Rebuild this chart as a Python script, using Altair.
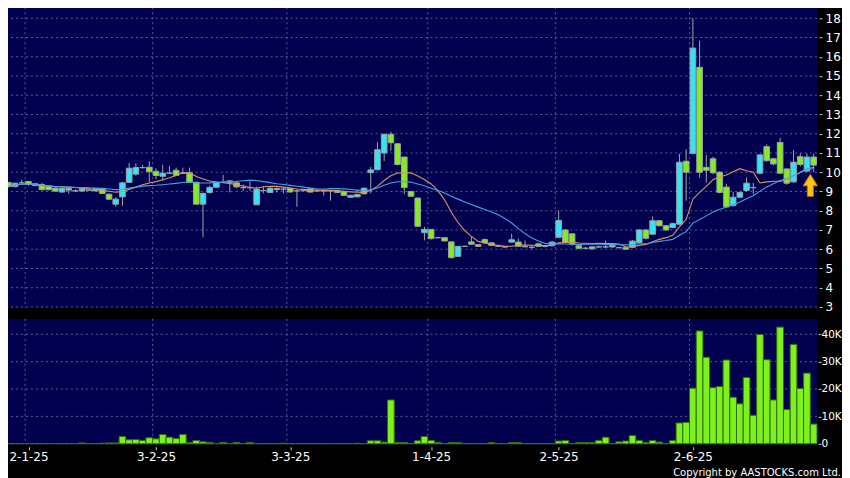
import altair as alt
import pandas as pd

# ---------------- data ----------------
opens = [9.47, 9.25, 9.45, 9.52, 9.40, 9.36, 9.28, 9.17, 8.97, 9.17,
         9.03, 9.02, 9.07, 9.14, 9.14, 8.86, 8.34, 8.72, 9.47, 9.90,
         10.24, 10.26, 10.05, 9.79, 9.95, 10.10, 9.95, 9.97, 9.48, 8.34,
         8.95, 9.22, 9.47, 9.45, 9.45, 9.20, 9.20, 8.31, 9.05, 8.95,
         9.10, 9.12, 9.16, 9.03, 9.05, 9.14, 9.03, 9.03, 9.03, 8.95,
         9.00, 8.70, 8.72, 9.17, 9.98, 10.13, 11.00, 11.97, 11.48, 10.79,
         9.00, 8.66, 6.86, 7.03, 6.60, 6.60, 6.38, 5.63, 6.15, 6.38,
         6.24, 6.50, 6.33, 6.15, 6.12, 6.37, 6.37, 6.13, 6.10, 6.28,
         6.15, 6.18, 6.62, 7.00, 6.80, 6.18, 6.05, 6.12, 6.12, 6.12,
         6.20, 6.08, 6.08, 6.10, 6.34, 7.00, 6.78, 7.48, 7.22, 7.13,
         7.30, 10.57, 10.98, 15.45, 10.25, 10.70, 10.00, 9.23, 8.27, 8.70,
         9.05, 9.20, 9.95, 11.33, 10.70, 11.55, 10.17, 9.50, 10.81, 10.06,
         10.79]
closes = [9.25, 9.43, 9.45, 9.38, 9.31, 9.09, 9.09, 9.02, 9.17, 9.07,
          9.03, 9.14, 9.07, 9.03, 8.90, 8.60, 8.60, 9.45, 10.21, 10.24,
          10.24, 10.03, 9.83, 9.95, 9.95, 9.84, 9.95, 9.47, 8.34, 8.90,
          9.21, 9.48, 9.47, 9.55, 9.24, 9.20, 9.20, 9.12, 9.05, 9.17,
          9.15, 9.12, 8.98, 9.03, 9.05, 8.97, 9.03, 9.03, 9.03, 9.05,
          8.80, 8.80, 8.85, 8.88, 10.12, 11.17, 11.97, 11.53, 10.40, 9.20,
          8.75, 7.19, 7.03, 6.55, 6.60, 6.43, 5.56, 6.15, 6.15, 6.26,
          6.15, 6.33, 6.20, 6.15, 6.12, 6.49, 6.15, 6.13, 6.10, 6.15,
          6.15, 6.37, 7.50, 6.35, 6.27, 6.05, 6.05, 6.02, 6.12, 6.12,
          6.12, 6.08, 6.00, 6.42, 7.00, 6.57, 7.48, 7.22, 7.00, 7.33,
          10.52, 10.00, 16.45, 10.00, 10.10, 9.97, 8.95, 8.20, 8.70, 8.95,
          9.43, 9.20, 10.90, 10.60, 10.43, 9.95, 9.43, 10.52, 10.40, 10.79,
          10.37]
highs = [9.50, 9.46, 9.62, 9.55, 9.42, 9.45, 9.30, 9.20, 9.22, 9.24,
         9.12, 9.17, 9.12, 9.18, 9.16, 8.88, 8.70, 9.50, 10.48, 10.46,
         10.38, 10.58, 10.20, 10.38, 10.33, 10.24, 10.24, 10.24, 9.50, 8.95,
         9.30, 9.50, 9.86, 9.60, 9.55, 9.36, 9.52, 9.25, 9.25, 9.22,
         9.22, 9.22, 9.20, 9.10, 9.10, 9.17, 9.10, 9.15, 9.08, 9.10,
         9.03, 8.83, 8.88, 9.20, 10.27, 11.57, 12.00, 12.09, 11.50, 10.80,
         9.02, 8.68, 7.16, 7.05, 6.64, 6.62, 6.40, 6.17, 6.18, 6.64,
         6.27, 6.56, 6.35, 6.18, 6.16, 6.80, 6.55, 6.45, 6.22, 6.30,
         6.20, 6.42, 8.02, 7.05, 6.82, 6.20, 6.12, 6.15, 6.18, 6.45,
         6.25, 6.12, 6.12, 6.48, 7.05, 7.05, 7.70, 7.52, 7.25, 7.38,
         10.95, 11.20, 18.00, 16.83, 10.90, 10.80, 10.05, 9.40, 8.98, 9.00,
         9.72, 9.45, 10.95, 11.45, 10.75, 11.78, 10.20, 11.15, 10.97, 10.97,
         10.97]
lows = [9.22, 9.22, 9.38, 9.30, 9.27, 9.07, 9.06, 8.98, 8.95, 8.88,
        8.98, 8.98, 9.02, 9.00, 8.86, 8.55, 8.20, 8.26, 9.45, 9.82,
        10.20, 9.47, 9.64, 9.55, 9.93, 9.80, 9.90, 9.45, 8.32, 6.62,
        8.88, 9.20, 9.44, 8.95, 9.17, 9.03, 9.03, 8.30, 8.90, 8.93,
        8.95, 8.90, 8.92, 8.20, 8.98, 8.95, 8.98, 8.80, 8.52, 8.92,
        8.75, 8.68, 8.70, 8.85, 8.90, 10.10, 10.58, 11.13, 10.36, 8.85,
        8.72, 7.16, 6.46, 6.50, 6.56, 6.40, 5.52, 5.60, 6.12, 6.22,
        6.12, 6.28, 6.16, 6.12, 6.08, 6.33, 6.12, 6.10, 6.00, 6.12,
        6.10, 6.15, 6.60, 6.30, 6.18, 6.00, 6.00, 5.97, 6.08, 6.05,
        6.08, 6.05, 5.98, 6.05, 6.30, 6.50, 6.75, 7.18, 6.97, 7.10,
        7.25, 8.52, 10.95, 9.72, 9.47, 9.90, 8.90, 8.15, 8.20, 8.65,
        9.00, 8.85, 9.90, 10.55, 10.35, 9.90, 9.35, 9.45, 10.30, 10.00,
        10.00]
volumes_k = [0.1, 0.1, 0.1, 0.1, 0.1, 0.1, 0.1, 0.1, 0.1, 0.1, 0.1, 0.3, 0.1, 0.1, 0.2, 0.3, 0.3,
             2.65, 1.45, 1.55, 1.2, 2.2, 1.8, 3.4, 2.4, 1.9, 3.4, 0.5, 1.2, 0.7, 0.5,
             0.1, 0.5, 0.1, 0.5, 0.1, 0.5, 0.1, 0.1, 0.1, 0.1, 0.2,
             0.1, 0.1, 0.1, 0.1, 0.1, 0.1, 0.1, 0.1, 0.1, 0.1, 0.2,
             0.1, 1.1, 1.1, 0.6, 16.0, 0.5, 0.5, 0.1, 1.1, 2.65,
             1.2, 0.5, 0.1, 0.4, 0.4, 0.1, 0.1, 0.1, 0.1, 0.4,
             0.1, 0.1, 0.4, 0.4, 0.1, 0.1, 0.1, 0.1, 0.1,
             1.0, 1.2, 0.1, 0.4, 0.4, 0.4, 1.2, 2.4, 0.1, 0.7, 1.0, 3.0, 1.2, 0.5, 1.2, 0.6, 0.1, 1.2,
             7.6, 7.8, 20.3, 41.2, 31.6, 20.5, 20.9, 30.6, 17.0, 14.6, 24.2, 10.4, 39.9, 30.7, 16.0,
             42.6, 12.5, 36.3, 20.2, 25.8, 7.2]

date_tick_index = [3, 22, 42, 63, 82, 102]
date_tick_labels = ["2-1-25", "3-2-25", "3-3-25", "1-4-25", "2-5-25", "2-6-25"]
price_ticks = list(range(3, 19))
volume_ticks = [0, 10000, 20000, 30000, 40000]
arrow_index = [119.5]
arrow_price = [9.32]
credit = ["Copyright by AASTOCKS.com Ltd."]

# ---------------- styling ----------------
NAVY = "#00004e"
GRID = "#5c5c94"
CYAN = "#35e4f2"
GREEN = "#84ec22"
WICK = "#a4a4a4"
FONT = "DejaVu Sans"

n = len(closes)
df = pd.DataFrame({
    "i": list(range(n)),
    "open": opens, "close": closes, "high": highs, "low": lows,
    "vol": [v * 1000 for v in volumes_k],
})
df["dir"] = ["up" if c > o else ("down" if c < o else "flat") for o, c in zip(opens, closes)]

W, H1, H2 = 813, 301, 125

xs = alt.Scale(domain=[-0.5, n - 0.5], nice=False, zero=False)
ys = alt.Scale(domain=[2.95, 18.57], nice=False, zero=False)
vs = alt.Scale(domain=[0, 45600], nice=False, zero=False)

common_ax = dict(title=None, grid=False, domain=False, tickColor="#c8c8c8", tickSize=3,
                 labelColor="white", labelFont=FONT)
yax = alt.Axis(orient="right", values=price_ticks, offset=2, labelPadding=3,
               labelFontSize=12, format="d", **common_ax)
vax = alt.Axis(orient="right", values=volume_ticks, offset=1, labelPadding=0, labelFontSize=10.5,
               labelExpr="datum.value == 0 ? '0' : (datum.value / 1000) + 'K'", **common_ax)
label_expr = " : ".join(
    f"datum.value == {v} ? '{t}'" for v, t in zip(date_tick_index, date_tick_labels)) + " : ''"
xax = alt.Axis(orient="bottom", values=date_tick_index, offset=3, labelPadding=2,
               labelFontSize=12, labelExpr=label_expr, **common_ax)

base = alt.Chart(df)
ticks_df = pd.DataFrame({"t": date_tick_index})

# ---- price panel ----
p_hgrid = alt.Chart(pd.DataFrame({"p": price_ticks})).mark_rule(
    color=GRID, strokeDash=[2, 3], strokeWidth=1).encode(
    y=alt.Y("p:Q", scale=ys, axis=yax))
p_vgrid = alt.Chart(ticks_df).transform_calculate(g="datum.t - 0.5").mark_rule(
    color=GRID, strokeDash=[2, 3], strokeWidth=1).encode(
    x=alt.X("g:Q", scale=xs, axis=None))
wicks = base.mark_rule(color=WICK, strokeWidth=1).encode(
    x=alt.X("i:Q", scale=xs, axis=None),
    y=alt.Y("low:Q", scale=ys, axis=yax), y2="high:Q")
bodies = base.transform_calculate(x0="datum.i - 0.42", x1="datum.i + 0.42").mark_bar(
    stroke="#9aa2a6", strokeWidth=1).encode(
    x=alt.X("x0:Q", scale=xs, axis=None), x2="x1:Q",
    y=alt.Y("open:Q", scale=ys, axis=yax), y2="close:Q",
    color=alt.Color("dir:N", scale=alt.Scale(domain=["up", "down", "flat"],
                                             range=[CYAN, GREEN, WICK]), legend=None))
ma_base = base.transform_window(
    ma10="mean(close)", frame=[-9, 0], sort=[alt.SortField("i")]).transform_window(
    ma20="mean(close)", frame=[-19, 0], sort=[alt.SortField("i")])
ma10 = ma_base.mark_line(color="#e0925f", strokeWidth=1.1).encode(
    x=alt.X("i:Q", scale=xs, axis=None), y=alt.Y("ma10:Q", scale=ys, axis=yax))
ma20 = ma_base.mark_line(color="#3ea4e8", strokeWidth=1.1).encode(
    x=alt.X("i:Q", scale=xs, axis=None), y=alt.Y("ma20:Q", scale=ys, axis=yax))
arrow = alt.Chart(pd.DataFrame({"ai": arrow_index, "ap": arrow_price})).mark_point(
    shape="M-0.27,1L0.27,1L0.27,0.05L0.65,0.05L0,-1L-0.65,0.05L-0.27,0.05Z",
    filled=True, fill="#ffc21c", stroke="#c97a00", strokeWidth=1, opacity=1, size=484).encode(
    x=alt.X("ai:Q", scale=xs, axis=None), y=alt.Y("ap:Q", scale=ys, axis=yax))

price = alt.layer(p_hgrid, p_vgrid, wicks, bodies, ma10, ma20, arrow).properties(
    width=W, height=H1)

# ---- volume panel ----
v_hgrid = alt.Chart(pd.DataFrame({"v": volume_ticks})).mark_rule(
    color=GRID, strokeDash=[2, 3], strokeWidth=1).encode(
    y=alt.Y("v:Q", scale=vs, axis=vax))
v_vgrid = alt.Chart(ticks_df).transform_calculate(g="datum.t - 0.5").mark_rule(
    color=GRID, strokeDash=[2, 3], strokeWidth=1).encode(
    x=alt.X("g:Q", scale=xs, axis=xax))
vbars = base.transform_calculate(b0="datum.i - 0.5", b1="datum.i + 0.5").mark_bar(
    fill="#7ef01e", stroke="#2f6e0c", strokeWidth=1).encode(
    x=alt.X("b0:Q", scale=xs, axis=xax), x2="b1:Q",
    y=alt.Y("vol:Q", scale=vs, axis=vax), y2=alt.datum(0))
credit_txt = alt.Chart(pd.DataFrame({"c": credit})).mark_text(
    align="right", baseline="alphabetic", color="white", font=FONT, fontSize=10).encode(
    x=alt.value(W + 24), y=alt.value(H2 + 32), text="c:N")

volume = alt.layer(v_hgrid, v_vgrid, vbars, credit_txt).properties(width=W, height=H2)

chart = alt.vconcat(price, volume, spacing=11, bounds="flush").properties(
    background="black",
    padding={"left": -4, "top": -2, "right": 0, "bottom": 0},
).configure_view(fill=NAVY, stroke=None)

chart.save("out.html", embed_options={"renderer": "svg", "actions": False})
